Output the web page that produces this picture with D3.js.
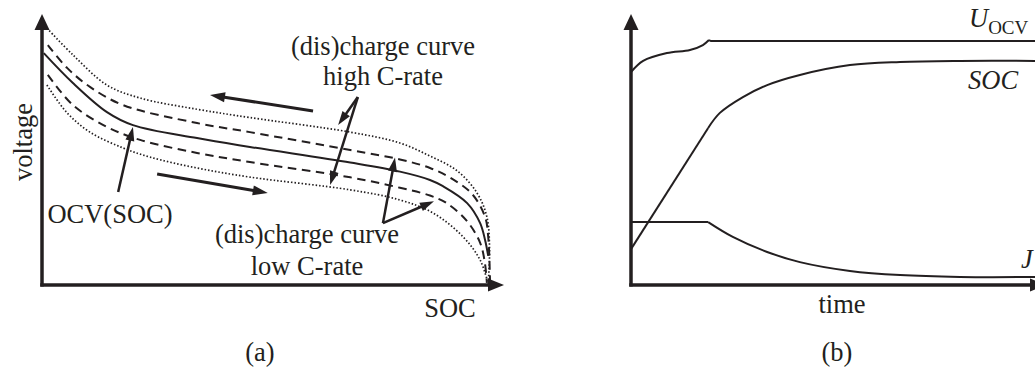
<!DOCTYPE html>
<html>
<head>
<meta charset="utf-8">
<script src="https://cdn.jsdelivr.net/npm/d3@7"></script>
<style>
  html, body { margin: 0; padding: 0; background: #fff; }
  svg { display: block; }
  text { font-family: "Liberation Serif", "Times New Roman", serif; fill: #231f20; }
</style>
</head>
<body>
<svg id="chart" width="1035" height="372"></svg>
<script>
// ---- Panel (a): voltage vs. SOC, [SOC %, voltage (rel.)] ----
const chargeHigh = [[1.1, 98.8], [6.9, 88.5], [14.5, 76.9], [21.9, 71.9], [34.6, 67.6], [46.4, 64.4],
  [68.8, 58.8], [79.9, 54.6], [86.6, 49.6], [92.6, 44.0], [97.1, 35.4], [99.3, 26.2], [99.9, 14.0], [99.6, 0.4]];
const chargeLow = [[1.3, 92.3], [5.6, 83.5], [10.7, 76.2], [18.1, 69.2], [34.6, 62.3], [46.4, 58.8],
  [68.8, 51.9], [79.9, 48.3], [86.6, 45.0], [91.1, 41.3], [96.0, 35.0], [98.9, 26.2], [99.6, 18.5], [100, 1.9]];
const ocv = [[0.4, 89.2], [6.9, 77.7], [14.5, 66.5], [20.3, 61.5], [34.6, 56.5], [46.4, 53.1],
  [68.8, 47.1], [79.9, 43.6], [86.6, 40.4], [89.5, 38.0], [94.9, 31.5], [97.8, 23.8], [98.9, 17.3], [99.6, 11.2]];
const dischargeLow = [[1.3, 80.8], [6.9, 69.2], [14.5, 60.8], [21.9, 55.8], [34.6, 50.8], [46.4, 47.3],
  [68.8, 41.4], [79.9, 37.4], [86.6, 34.4], [90.4, 31.4], [94.9, 24.5], [97.8, 16.2], [98.9, 8.0], [99.3, 0.8]];
const dischargeHigh = [[1.1, 76.9], [5.6, 66.2], [10.7, 58.8], [18.1, 52.7], [24.1, 49.2], [34.6, 45.0],
  [46.4, 41.5], [68.8, 36.6], [79.9, 32.7], [87.3, 27.7], [94.0, 18.5], [97.8, 9.6], [99.6, 0.4]];

// Annotation arrows in panel (a): [from, to] in data units
const directionArrows = [
  [[60.5, 66.9], [37.5, 73.1]],   // charging
  [[25.7, 42.7], [50.4, 35.4]]    // discharging
];
const ocvPointer = [[17.0, 35.8], [20.3, 60.8]];
const highRatePointers = [[[70.5, 72.3], [66.1, 61.5]], [[70.5, 72.3], [64.3, 38.5]]];
const lowRatePointers = [[[76.1, 23.8], [78.8, 49.0]], [[76.1, 23.8], [87.5, 32.2]]];

// ---- Panel (b): charging transient over time, [time, value (rel.)] ----
const uocvRise = [[0, 81.9], [3.0, 86.2], [8.9, 89.2], [14.6, 90.4], [17.8, 92.3], [19.3, 94.2]];
const uocvHold = [[19.3, 94.2], [19.8, 93.8], [100, 93.8]];
const socRamp = [[0, 13.8], [19.1, 60.4]];
const socTaper = [[19.1, 60.4], [22.0, 66.2], [27.7, 72.3], [33.7, 76.9], [41.8, 80.8], [54.2, 84.6],
  [66.6, 85.8], [81.4, 86.2], [100, 86.2]];
const currentHold = [[0, 24.2], [19.1, 24.2]];
const currentTaper = [[19.1, 24.2], [25.2, 18.5], [33.7, 12.7], [41.8, 8.8], [54.2, 5.4], [66.6, 3.8],
  [81.4, 3.1], [100, 3.1]];

const ink = "#231f20";
const svg = d3.select("#chart");

// Scales
const xA = d3.scaleLinear().domain([0, 100]).range([42, 490]);
const yA = d3.scaleLinear().domain([0, 100]).range([285, 25]);
const xB = d3.scaleLinear().domain([0, 100]).range([631, 1035]);
const yB = d3.scaleLinear().domain([0, 100]).range([285, 25]);

const lineA = d3.line().x(d => xA(d[0])).y(d => yA(d[1])).curve(d3.curveCatmullRom.alpha(0.5));
const lineB = d3.line().x(d => xB(d[0])).y(d => yB(d[1])).curve(d3.curveCatmullRom.alpha(0.5));
const straightB = d3.line().x(d => xB(d[0])).y(d => yB(d[1]));

// Filled arrowhead with its tip at (x2, y2)
function arrowHead(g, x1, y1, x2, y2, len, half) {
  const a = Math.atan2(y2 - y1, x2 - x1);
  const bx = x2 - len * Math.cos(a), by = y2 - len * Math.sin(a);
  const px = -Math.sin(a) * half, py = Math.cos(a) * half;
  g.append("path")
    .attr("d", `M${x2},${y2}L${bx + px},${by + py}L${bx - px},${by - py}Z`)
    .attr("fill", ink);
}
function arrow(g, from, to, sx, sy, width, len, half) {
  const x1 = sx(from[0]), y1 = sy(from[1]), x2 = sx(to[0]), y2 = sy(to[1]);
  const a = Math.atan2(y2 - y1, x2 - x1);
  g.append("line")
    .attr("x1", x1).attr("y1", y1)
    .attr("x2", x2 - (len - 2) * Math.cos(a)).attr("y2", y2 - (len - 2) * Math.sin(a))
    .attr("stroke", ink).attr("stroke-width", width);
  arrowHead(g, x1, y1, x2, y2, len, half);
}

// ---------- Panel (a) ----------
const gA = svg.append("g");

const curvesA = [
  { data: chargeHigh, dash: "1.5 2", w: 1.7, cap: "butt" },
  { data: chargeLow, dash: "8.5 5.5", w: 2, cap: "butt" },
  { data: ocv, dash: null, w: 2, cap: "butt" },
  { data: dischargeLow, dash: "8.5 5.5", w: 2, cap: "butt" },
  { data: dischargeHigh, dash: "1.5 2", w: 1.7, cap: "butt" }
];
gA.selectAll("path.curve").data(curvesA).join("path")
  .attr("class", "curve")
  .attr("d", d => lineA(d.data))
  .attr("fill", "none")
  .attr("stroke", ink)
  .attr("stroke-width", d => d.w)
  .attr("stroke-linecap", d => d.cap)
  .attr("stroke-dasharray", d => d.dash);

// axes
gA.append("line").attr("x1", xA(0)).attr("x2", xA(0)).attr("y1", yA(0) + 1.5).attr("y2", 27)
  .attr("stroke", ink).attr("stroke-width", 3.5);
gA.append("line").attr("x1", xA(0) - 1.75).attr("x2", 490).attr("y1", yA(0)).attr("y2", yA(0))
  .attr("stroke", ink).attr("stroke-width", 3.5);
arrowHead(gA, xA(0), 100, xA(0), 14, 16, 7.5);
arrowHead(gA, 400, yA(0), 504, yA(0), 16, 6.5);

// annotation arrows
directionArrows.forEach(d => arrow(gA, d[0], d[1], xA, yA, 3, 15, 5));
arrow(gA, ocvPointer[0], ocvPointer[1], xA, yA, 2.5, 14, 4.5);
highRatePointers.forEach(d => arrow(gA, d[0], d[1], xA, yA, 2.5, 14, 4.5));
lowRatePointers.forEach(d => arrow(gA, d[0], d[1], xA, yA, 2.5, 14, 4.5));

// labels
const fs = 26.5;
gA.append("text").attr("transform", "translate(32,142) rotate(-90)")
  .attr("text-anchor", "middle").attr("font-size", fs).text("voltage");
gA.append("text").attr("x", 383).attr("y", 55).attr("text-anchor", "middle").attr("font-size", fs).text("(dis)charge curve");
gA.append("text").attr("x", 383).attr("y", 85).attr("text-anchor", "middle").attr("font-size", fs).text("high C-rate");
gA.append("text").attr("x", 110).attr("y", 223).attr("text-anchor", "middle").attr("font-size", fs).text("OCV(SOC)");
gA.append("text").attr("x", 307).attr("y", 243).attr("text-anchor", "middle").attr("font-size", fs).text("(dis)charge curve");
gA.append("text").attr("x", 307).attr("y", 275).attr("text-anchor", "middle").attr("font-size", fs).text("low C-rate");
gA.append("text").attr("x", 450).attr("y", 317).attr("text-anchor", "middle").attr("font-size", fs).text("SOC");
gA.append("text").attr("x", 260).attr("y", 361).attr("text-anchor", "middle").attr("font-size", fs).text("(a)");

// ---------- Panel (b) ----------
const gB = svg.append("g");

[uocvRise, socTaper, currentTaper].forEach(d =>
  gB.append("path").attr("d", lineB(d)).attr("fill", "none").attr("stroke", ink).attr("stroke-width", 2));
[uocvHold, socRamp, currentHold].forEach(d =>
  gB.append("path").attr("d", straightB(d)).attr("fill", "none").attr("stroke", ink).attr("stroke-width", 2));

gB.append("line").attr("x1", xB(0)).attr("x2", xB(0)).attr("y1", yB(0) + 1.5).attr("y2", 27)
  .attr("stroke", ink).attr("stroke-width", 3.5);
gB.append("line").attr("x1", xB(0) - 1.75).attr("x2", 1035).attr("y1", yB(0)).attr("y2", yB(0))
  .attr("stroke", ink).attr("stroke-width", 3.5);
arrowHead(gB, xB(0), 100, xB(0), 14, 16, 7.5);
arrowHead(gB, 900, yB(0), 1046, yB(0), 16, 6.5);

// labels
const uLabel = gB.append("text").attr("x", 969).attr("y", 27).attr("font-size", fs);
uLabel.append("tspan").attr("font-style", "italic").text("U");
uLabel.append("tspan").attr("font-size", 19).attr("dy", 7).text("OCV");
gB.append("text").attr("x", 968).attr("y", 89).attr("font-size", fs).attr("font-style", "italic").text("SOC");
gB.append("text").attr("x", 1021).attr("y", 268).attr("font-size", fs).attr("font-style", "italic").text("J");
gB.append("text").attr("x", 842).attr("y", 313).attr("text-anchor", "middle").attr("font-size", fs).text("time");
gB.append("text").attr("x", 837).attr("y", 361).attr("text-anchor", "middle").attr("font-size", fs).text("(b)");
</script>
</body>
</html>
